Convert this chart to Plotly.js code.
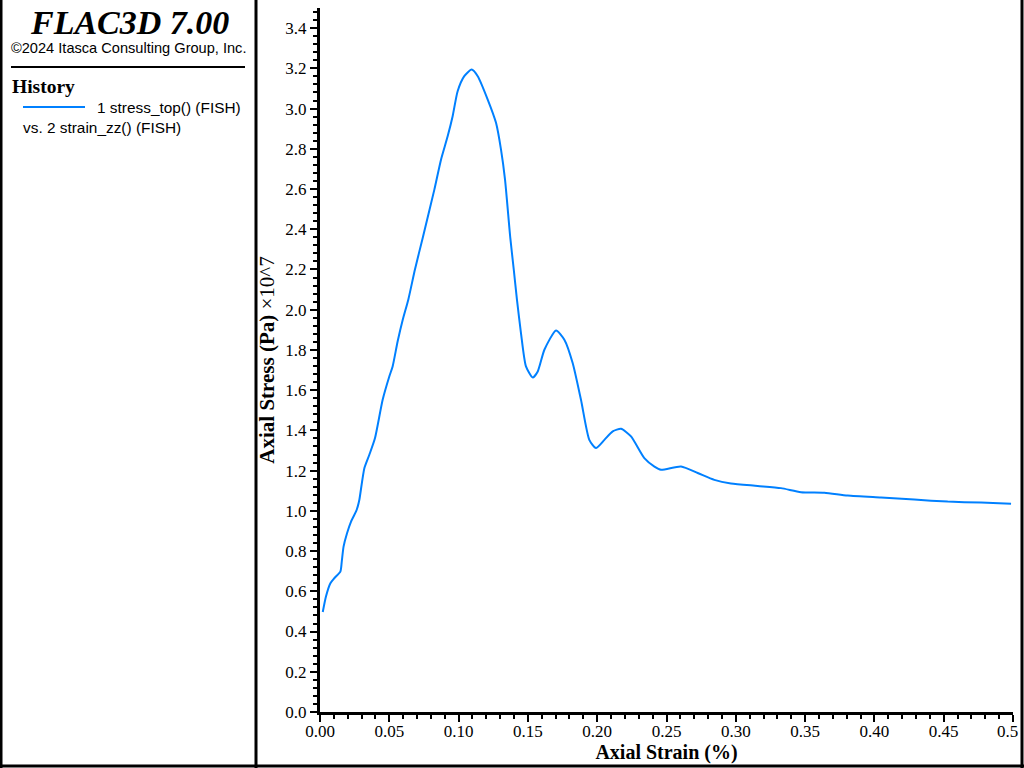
<!DOCTYPE html>
<html>
<head>
<meta charset="utf-8">
<script src="https://cdn.plot.ly/plotly-3.0.1.min.js"></script>
<style>
html,body{margin:0;padding:0;background:#fff;}
#chart{width:1024px;height:768px;}
</style>
</head>
<body>
<div id="chart"></div>
<script>
// Axial strain (%) and axial stress (x10^7 Pa)
var strain = [0.002, 0.0043, 0.0075, 0.0103, 0.0147, 0.0157, 0.017, 0.0195, 0.0224, 0.026, 0.0272, 0.0284,
  0.032, 0.0356, 0.0397, 0.0452, 0.05, 0.0524, 0.056, 0.0597, 0.0637, 0.0685, 0.0741, 0.0825, 0.0873, 0.0921,
  0.0957, 0.0993, 0.1041, 0.1094, 0.1138, 0.121, 0.127, 0.1306, 0.1335, 0.1373, 0.1398, 0.1421, 0.145, 0.1486,
  0.1535, 0.1571, 0.1619, 0.1703, 0.1763, 0.1823, 0.1883, 0.1943, 0.1991, 0.2052, 0.2112, 0.2172, 0.2244,
  0.234, 0.2413, 0.246, 0.2605, 0.2725, 0.2845, 0.2965, 0.3158, 0.3326, 0.347, 0.3639, 0.3807, 0.4048,
  0.4288, 0.4529, 0.4769, 0.4986];
var stress = [0.497, 0.574, 0.640, 0.665, 0.698, 0.748, 0.822, 0.889, 0.947, 0.997, 1.021, 1.055,
  1.212, 1.279, 1.362, 1.552, 1.668, 1.718, 1.842, 1.95, 2.05, 2.2, 2.357, 2.597, 2.746, 2.862,
  2.962, 3.086, 3.161, 3.194, 3.161, 3.045, 2.929, 2.796, 2.647, 2.357, 2.2, 2.05, 1.884, 1.718,
  1.663, 1.693, 1.801, 1.897, 1.851, 1.735, 1.552, 1.353, 1.312, 1.353, 1.395, 1.408, 1.37,
  1.262, 1.22, 1.204, 1.22, 1.188, 1.154, 1.136, 1.124, 1.113, 1.093, 1.09, 1.076, 1.066,
  1.056, 1.046, 1.041, 1.035];
var xTickVals = [0, 0.05, 0.10, 0.15, 0.20, 0.25, 0.30, 0.35, 0.40, 0.45, 0.50];
var xTickText = ["0.00", "0.05", "0.10", "0.15", "0.20", "0.25", "0.30", "0.35", "0.40", "0.45", ""];
var xLastTickText = "0.5";
var yTickVals = [0.0, 0.2, 0.4, 0.6, 0.8, 1.0, 1.2, 1.4, 1.6, 1.8, 2.0, 2.2, 2.4, 2.6, 2.8, 3.0, 3.2, 3.4];
var legendText1 = "1 stress_top() (FISH)";
var legendText2 = "vs. 2 strain_zz() (FISH)";

var L = 320, R = 11, T = 8, B = 56, W = 1024, H = 768;
var PW = W - L - R, PH = H - T - B;
function px(x) { return (x - L) / PW; }
function py(y) { return (H - B - y) / PH; }

var serif = "Liberation Serif, Times New Roman, serif";
var sans = "Liberation Sans, Arial, sans-serif";
var blue = "rgb(0,128,255)";

var trace = {
  x: strain, y: stress, type: "scatter", mode: "lines",
  line: {color: blue, width: 2, shape: "spline", smoothing: 0.6},
  showlegend: false, hoverinfo: "x+y"
};

var layout = {
  width: W, height: H,
  margin: {l: L, r: R, t: T, b: B, pad: 0},
  paper_bgcolor: "#fff", plot_bgcolor: "#fff",
  showlegend: false,
  font: {family: serif, color: "#000"},
  xaxis: {
    range: [0, 0.5], tickvals: xTickVals, ticktext: xTickText,
    ticks: "outside", ticklen: 7, tickwidth: 2, tickcolor: "#000",
    ticklabelstandoff: -5,
    showline: true, linecolor: "#000", linewidth: 3, showgrid: false, zeroline: false,
    tickfont: {family: serif, size: 17, color: "#000"},
    minor: {dtick: 0.01, ticks: "outside", ticklen: 4, tickwidth: 2, tickcolor: "#000", showgrid: false},
    title: {text: "<b>Axial Strain (%)</b>", font: {family: serif, size: 20, color: "#000"}, standoff: 4},
    fixedrange: true
  },
  yaxis: {
    range: [0, 3.5], tickvals: yTickVals, tickformat: ".1f",
    ticks: "outside", ticklen: 7, tickwidth: 2, tickcolor: "#000",
    showline: true, linecolor: "#000", linewidth: 3, showgrid: false, zeroline: false,
    tickfont: {family: serif, size: 17, color: "#000"},
    minor: {dtick: 0.04, ticks: "outside", ticklen: 4, tickwidth: 2, tickcolor: "#000", showgrid: false},
    title: {text: "<b>Axial Stress (Pa)</b> \u00d710^7", font: {family: serif, size: 21, color: "#000"}, standoff: 5},
    fixedrange: true
  },
  annotations: [
    {text: xLastTickText, xref: "paper", yref: "paper", x: px(1019), y: py(731),
     xanchor: "right", yanchor: "middle", showarrow: false, borderpad: 0,
     font: {family: serif, size: 17, color: "#000"}},
    {text: "<b><i>FLAC3D 7.00</i></b>", xref: "paper", yref: "paper", x: px(129), y: py(22),
     xanchor: "center", yanchor: "middle", showarrow: false, font: {family: serif, size: 34, color: "#000"}},
    {text: "\u00a92024 Itasca Consulting Group, Inc.", xref: "paper", yref: "paper", x: px(128), y: py(48),
     xanchor: "center", yanchor: "middle", showarrow: false, font: {family: sans, size: 14.6, color: "#000"}},
    {text: "<b>History</b>", xref: "paper", yref: "paper", x: px(10), y: py(86),
     xanchor: "left", yanchor: "middle", showarrow: false, font: {family: serif, size: 19.5, color: "#000"}},
    {text: legendText1, xref: "paper", yref: "paper", x: px(95), y: py(107),
     xanchor: "left", yanchor: "middle", showarrow: false, font: {family: sans, size: 15.4, color: "#000"}},
    {text: legendText2, xref: "paper", yref: "paper", x: px(21), y: py(127),
     xanchor: "left", yanchor: "middle", showarrow: false, font: {family: sans, size: 15.4, color: "#000"}}
  ],
  shapes: [
    {type: "line", xref: "paper", yref: "paper", x0: px(11), x1: px(245), y0: py(67), y1: py(67),
     line: {color: "#000", width: 2}},
    {type: "line", xref: "paper", yref: "paper", x0: px(23), x1: px(85), y0: py(107), y1: py(107),
     line: {color: blue, width: 2}},
    {type: "line", xref: "paper", yref: "paper", x0: px(256), x1: px(256), y0: py(0), y1: py(768),
     line: {color: "#000", width: 3}},
    {type: "line", xref: "paper", yref: "paper", x0: px(1), x1: px(1), y0: py(0), y1: py(768),
     line: {color: "#000", width: 3}},
    {type: "line", xref: "paper", yref: "paper", x0: px(1022), x1: px(1022), y0: py(0), y1: py(768),
     line: {color: "#000", width: 3}},
    {type: "line", xref: "paper", yref: "paper", x0: px(0), x1: px(1024), y0: py(766), y1: py(766),
     line: {color: "#000", width: 3}}
  ]
};

Plotly.newPlot("chart", [trace], layout, {displayModeBar: false, staticPlot: true});
</script>
</body>
</html>
